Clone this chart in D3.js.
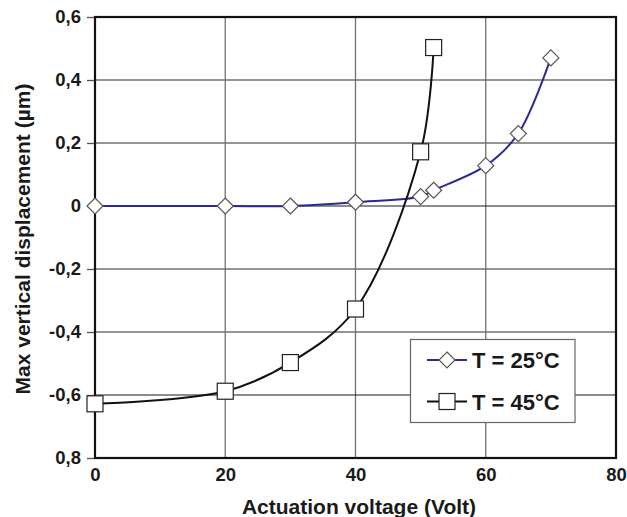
<!DOCTYPE html>
<html>
<head>
<meta charset="utf-8">
<script src="https://cdn.jsdelivr.net/npm/d3@7"></script>
<style>
  html, body { margin: 0; padding: 0; background: #fff; }
  svg { display: block; }
  text { font-family: "Liberation Sans", Arial, Helvetica, sans-serif; font-weight: bold; fill: #1a1a1a; }
</style>
</head>
<body>
<svg id="chart" width="627" height="517"></svg>
<script>
// ---- data ----
const voltage25 = [0, 20, 30, 40, 50, 52, 60, 65, 70];
const disp25    = [0, 0, 0, 0.012, 0.03, 0.05, 0.128, 0.23, 0.47];
const voltage45 = [0, 20, 30, 40, 50, 52];
const disp45    = [-0.628, -0.588, -0.497, -0.327, 0.172, 0.503];
const seriesNames = ["T = 25°C", "T = 45°C"];
const xTicks = [0, 20, 40, 60, 80];
const yTicks = [0.6, 0.4, 0.2, 0, -0.2, -0.4, -0.6, -0.8];
const yTickLabels = ["0,6", "0,4", "0,2", "0", "-0,2", "-0,4", "-0,6", "0,8"];
const xTitle = "Actuation voltage (Volt)";
const yTitle = "Max vertical displacement (µm)";

// ---- layout ----
const svg = d3.select("#chart");
const L = 95, R = 616, T = 17, B = 458;
const x = d3.scaleLinear().domain([0, 80]).range([L, R]);
const y = d3.scaleLinear().domain([-0.8, 0.6]).range([B, T]);
const blue = "#2c2a8e";

// gridlines
const g = svg.append("g");
g.selectAll("line.vx").data(xTicks.slice(1, -1)).enter().append("line")
  .attr("x1", d => x(d)).attr("x2", d => x(d)).attr("y1", T).attr("y2", B)
  .attr("stroke", "#707070").attr("stroke-width", 1.3);
g.selectAll("line.hy").data(yTicks.slice(1, -1)).enter().append("line")
  .attr("x1", L).attr("x2", R).attr("y1", d => y(d)).attr("y2", d => y(d))
  .attr("stroke", d => (d === 0 || d === -0.6) ? "#1a1a1a" : "#707070")
  .attr("stroke-width", d => (d === 0 || d === -0.6) ? 1.1 : 1.3);

// y axis
const yAxis = d3.axisLeft(y).tickValues(yTicks)
  .tickFormat((d, i) => yTickLabels[i]).tickSize(8).tickPadding(6);
const ya = svg.append("g").attr("transform", `translate(${L},0)`).call(yAxis);
ya.select(".domain").remove();
ya.selectAll(".tick line").attr("stroke", "#555").attr("stroke-width", 1.3);
ya.selectAll(".tick text").attr("font-size", 18.5).attr("fill", "#1a1a1a")
  .attr("font-family", "Liberation Sans, Arial, sans-serif").attr("font-weight", "bold");

// x axis
const xAxis = d3.axisBottom(x).tickValues(xTicks).tickFormat(d3.format("d")).tickSize(0).tickPadding(10);
const xa = svg.append("g").attr("transform", `translate(0,${B})`).call(xAxis);
xa.select(".domain").remove();
xa.selectAll(".tick text").attr("font-size", 18.5).attr("fill", "#1a1a1a")
  .attr("font-family", "Liberation Sans, Arial, sans-serif").attr("font-weight", "bold");

// frame
svg.append("rect").attr("x", L).attr("y", T).attr("width", R - L).attr("height", B - T)
  .attr("fill", "none").attr("stroke", "#111").attr("stroke-width", 2.2);

// lines
const line = d3.line().x(d => x(d[0])).y(d => y(d[1])).curve(d3.curveCatmullRom.alpha(0.5));
const pts25 = voltage25.map((v, i) => [v, disp25[i]]);
const pts45 = voltage45.map((v, i) => [v, disp45[i]]);

svg.append("path").datum(pts25).attr("d", line).attr("fill", "none")
  .attr("stroke", blue).attr("stroke-width", 2);
svg.append("path").datum(pts45).attr("d", line).attr("fill", "none")
  .attr("stroke", "#111").attr("stroke-width", 2);

// markers
const diamond = s => `M0,${-s}L${s},0L0,${s}L${-s},0Z`;
svg.selectAll("path.d25").data(pts25).enter().append("path")
  .attr("transform", d => `translate(${x(d[0])},${y(d[1])})`)
  .attr("d", diamond(8)).attr("fill", "#fff").attr("stroke", "#555").attr("stroke-width", 1.2);
svg.selectAll("rect.s45").data(pts45).enter().append("rect")
  .attr("x", d => x(d[0]) - 8).attr("y", d => y(d[1]) - 8)
  .attr("width", 16).attr("height", 16)
  .attr("fill", "#fff").attr("stroke", "#222").attr("stroke-width", 1.2);

// legend
const lg = svg.append("g");
lg.append("rect").attr("x", 410.5).attr("y", 339.5).attr("width", 164.5).attr("height", 83)
  .attr("fill", "#fff").attr("stroke", "#666").attr("stroke-width", 1.2);
const legY = [360, 401.5];
seriesNames.forEach((name, i) => {
  const cy = legY[i];
  lg.append("line").attr("x1", 427).attr("x2", 467).attr("y1", cy).attr("y2", cy)
    .attr("stroke", i === 0 ? blue : "#111").attr("stroke-width", 2);
  if (i === 0) {
    lg.append("path").attr("transform", `translate(447,${cy})`).attr("d", diamond(8))
      .attr("fill", "#fff").attr("stroke", "#555").attr("stroke-width", 1.2);
  } else {
    lg.append("rect").attr("x", 439).attr("y", cy - 8).attr("width", 16).attr("height", 16)
      .attr("fill", "#fff").attr("stroke", "#222").attr("stroke-width", 1.2);
  }
  lg.append("text").attr("x", 472).attr("y", cy + 8).attr("font-size", 22).text(name);
});

// titles
svg.append("text").attr("x", 359).attr("y", 514).attr("text-anchor", "middle")
  .attr("font-size", 21).text(xTitle);
svg.append("text").attr("transform", "translate(30,239) rotate(-90)")
  .attr("text-anchor", "middle").attr("font-size", 21).text(yTitle);
</script>
</body>
</html>
